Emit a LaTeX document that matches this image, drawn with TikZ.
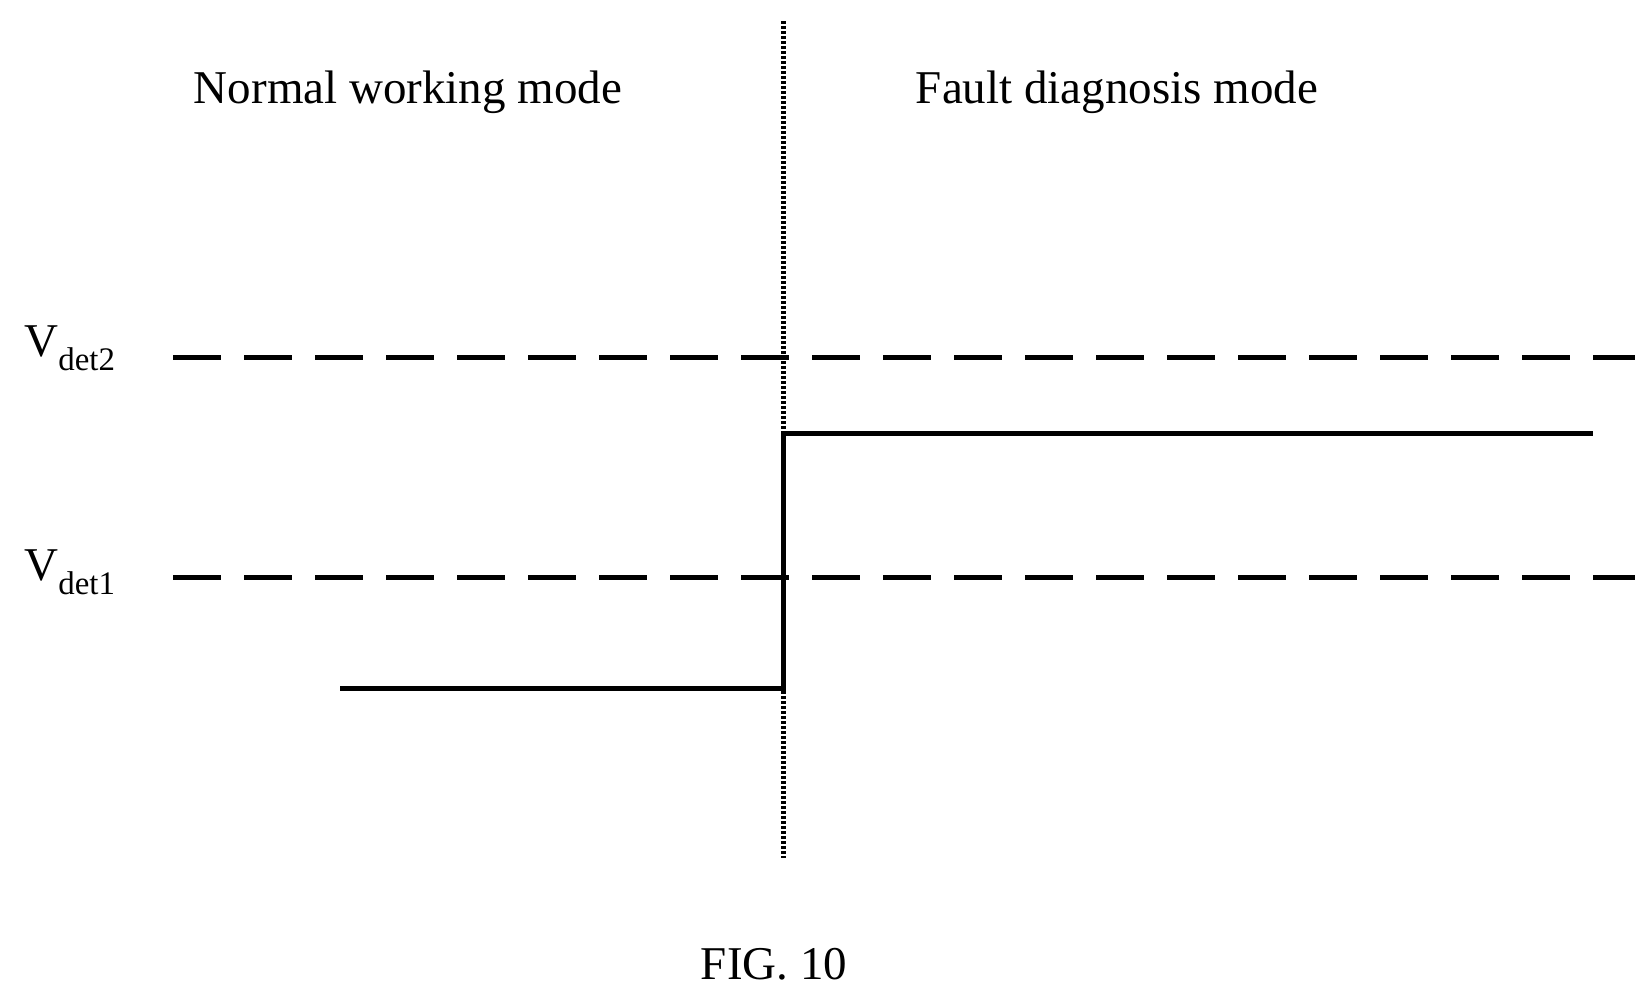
\documentclass[tikz,border=0pt]{standalone}
\usepackage{fontspec}
\setmainfont{Liberation Serif}
\begin{document}
\begin{tikzpicture}[x=1pt,y=-1pt,
  lbl/.style={font=\fontsize{47}{52}\selectfont},
  dsh/.style={line width=5pt,dash pattern=on 48pt off 23pt},
  sig/.style={line width=5pt},
  vline/.style={line width=5pt,dash pattern=on 3pt off 2pt}]
\useasboundingbox (0,0) rectangle (1635,1002);
\coordinate (vt) at (783,21);
\coordinate (vb) at (783,858);
\draw[vline] (vt) -- (vb);
\coordinate (d2a) at (173,357); \coordinate (d2b) at (1635,357);
\coordinate (d1a) at (173,577); \coordinate (d1b) at (1635,577);
\draw[dsh] (d2a) -- (d2b);
\draw[dsh] (d1a) -- (d1b);
\coordinate (s0) at (340,688); \coordinate (s1) at (783,688);
\coordinate (s2) at (783,433); \coordinate (s3) at (1593,433);
\draw[sig] (s0) -- (s1) -- (s2) -- (s3);
\node[lbl] (n) at (408,92) {Normal working mode};
\node[lbl] (f) at (1117,92) {Fault diagnosis mode};
\node[lbl] (v2) at (70,348) {V\textsubscript{det2}};
\node[lbl] (v1) at (70,572) {V\textsubscript{det1}};
\node[lbl] (fig) at (774,964) {FIG. 10};
\end{tikzpicture}
\end{document}
